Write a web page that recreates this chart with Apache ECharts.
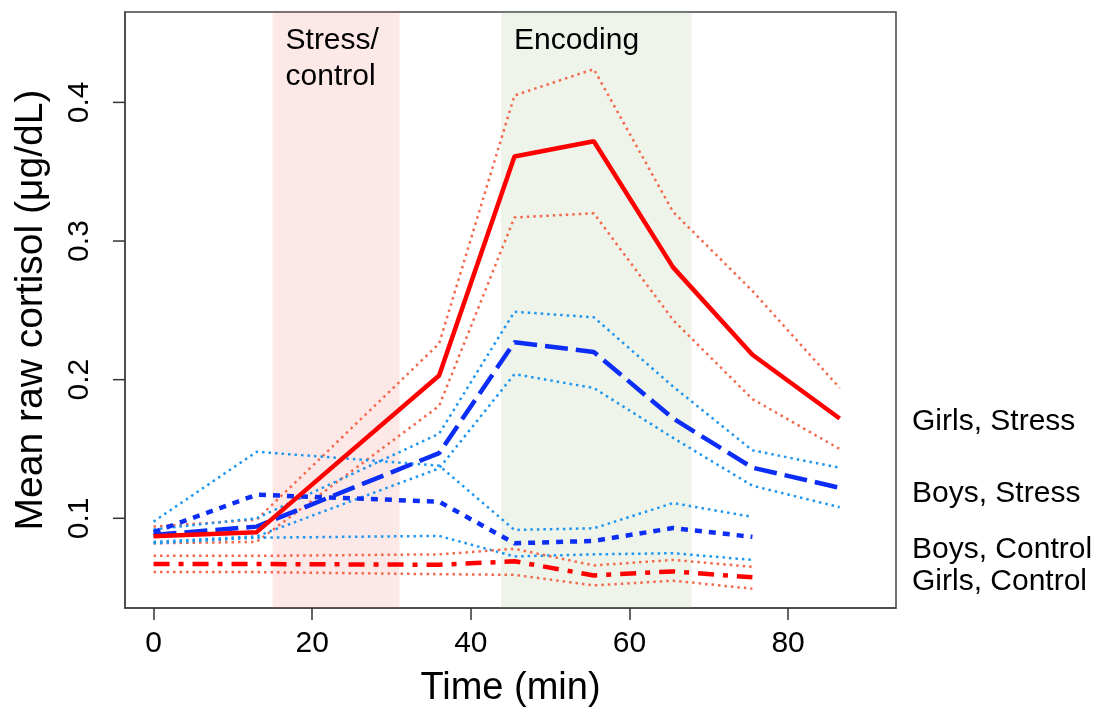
<!DOCTYPE html>
<html>
<head>
<meta charset="utf-8">
<script src="https://cdn.jsdelivr.net/npm/echarts@6/dist/echarts.min.js"></script>
<style>
  html, body { margin: 0; padding: 0; background: #fff; }
  #chart { width: 1102px; height: 713px; }
</style>
</head>
<body>
<div id="chart"></div>
<script>
// time points (min)
var times = [0, 13, 36, 45.5, 55.5, 65.5, 75.5, 86.5];
var timesShort = [0, 13, 36, 45.5, 55.5, 65.5, 75.5];

var xTicks = [0, 20, 40, 60, 80];
var yTicks = [0.1, 0.2, 0.3, 0.4];

// Girls, Stress
var girlsStress = [0.087, 0.090, 0.203, 0.361, 0.372, 0.281, 0.218, 0.172];
var girlsStressHi = [0.094, 0.099, 0.226, 0.405, 0.424, 0.321, 0.264, 0.194];
var girlsStressLo = [0.082, 0.083, 0.181, 0.317, 0.320, 0.243, 0.186, 0.150];

// Boys, Stress
var boysStress = [0.088, 0.094, 0.147, 0.227, 0.220, 0.172, 0.1365, 0.122];
var boysStressHi = [0.092, 0.100, 0.161, 0.249, 0.245, 0.195, 0.149, 0.1365];
var boysStressLo = [0.083, 0.087, 0.136, 0.204, 0.194, 0.158, 0.1235, 0.108];

// Boys, Control
var boysControl = [0.090, 0.117, 0.112, 0.082, 0.0837, 0.093, 0.0866];
var boysControlHi = [0.0976, 0.148, 0.138, 0.0916, 0.0928, 0.111, 0.101];
var boysControlLo = [0.082, 0.086, 0.0873, 0.0725, 0.074, 0.0748, 0.070];

// Girls, Control
var girlsControl = [0.067, 0.067, 0.0665, 0.069, 0.0588, 0.0617, 0.0574];
var girlsControlHi = [0.0729, 0.0729, 0.074, 0.078, 0.066, 0.070, 0.065];
var girlsControlLo = [0.0612, 0.0612, 0.0597, 0.0592, 0.0516, 0.055, 0.0492];

// shaded phases
var phases = [
  { name: 'Stress/\ncontrol', from: 15, to: 31 },
  { name: 'Encoding', from: 43.8, to: 67.8 }
];
var phaseColors = ['rgba(242,100,100,0.15)', 'rgba(142,182,115,0.15)'];

var groupLabels = ['Girls, Stress', 'Boys, Stress', 'Boys, Control', 'Girls, Control'];
var labelY = [422, 494, 550, 582];

var RED = '#ff0000', CORAL = '#f4694e', BLUE = '#0b2df5', SKY = '#1e96f0';
var FONT = 'Liberation Sans, Arial, Helvetica, sans-serif';
var X_MIN = -3.6, X_MAX = 93.6;
var Y_MIN = 0.0353, Y_MAX = 0.4652;

function pairs(xs, ys) {
  return ys.map(function (v, i) { return [xs[i], v]; });
}

function line(xs, ys, color, width, dash) {
  return {
    type: 'line',
    data: pairs(xs, ys),
    symbol: 'none',
    silent: true,
    z: 2,
    lineStyle: { color: color, width: width, type: dash }
  };
}

var dotted = [2.5, 4];

var series = [
  line(times, girlsStressHi, CORAL, 2.5, dotted),
  line(times, girlsStressLo, CORAL, 2.5, dotted),
  line(times, boysStressHi, SKY, 2.5, dotted),
  line(times, boysStressLo, SKY, 2.5, dotted),
  line(timesShort, boysControlHi, SKY, 2.5, dotted),
  line(timesShort, boysControlLo, SKY, 2.5, dotted),
  line(timesShort, girlsControlHi, CORAL, 2.5, dotted),
  line(timesShort, girlsControlLo, CORAL, 2.5, dotted),
  line(timesShort, girlsControl, RED, 4.5, [16, 9, 5, 9]),
  line(timesShort, boysControl, BLUE, 4.5, [7, 7]),
  line(times, boysStress, BLUE, 4.5, [23, 8]),
  line(times, girlsStress, RED, 4.5, 'solid'),
  {
    type: 'line',
    data: [],
    z: 5,
    silent: true,
    markArea: {
      silent: true,
      data: phases.map(function (p, i) {
        return [
          { xAxis: p.from, yAxis: Y_MIN, name: p.name,
            itemStyle: { color: phaseColors[i] } },
          { xAxis: p.to, yAxis: Y_MAX }
        ];
      }),
      label: {
        show: true,
        position: [13, 11],
        color: '#000',
        fontSize: 30,
        lineHeight: 36,
        fontFamily: FONT,
        align: 'left'
      }
    }
  },
  // y axis ticks, drawn outward from the left border
  {
    type: 'custom',
    silent: true,
    clip: false,
    z: 6,
    data: yTicks.map(function (v) { return [X_MIN, v]; }),
    renderItem: function (params, api) {
      var p = api.coord([api.value(0), api.value(1)]);
      return {
        type: 'line',
        shape: { x1: p[0] - 12, y1: p[1], x2: p[0], y2: p[1] },
        style: { stroke: '#333', lineWidth: 1.5 }
      };
    }
  }
];

var chart = echarts.init(document.getElementById('chart'), null, { renderer: 'canvas' });

chart.setOption({
  animation: false,
  backgroundColor: '#fff',
  textStyle: { fontFamily: FONT },
  grid: {
    left: 125, right: 206, top: 12, bottom: 103,
    show: true, borderColor: '#444', borderWidth: 1.5, backgroundColor: 'transparent'
  },
  xAxis: {
    type: 'value',
    min: X_MIN,
    max: X_MAX,
    name: 'Time (min)',
    nameLocation: 'middle',
    nameGap: 62,
    nameTextStyle: { fontSize: 38, color: '#000', fontFamily: FONT },
    axisLine: { show: true, onZero: false, lineStyle: { color: '#444', width: 1.5 } },
    splitLine: { show: false },
    axisTick: { show: true, length: 12, lineStyle: { color: '#333', width: 1.5 }, customValues: xTicks },
    axisLabel: { fontSize: 30, color: '#000', margin: 21, customValues: xTicks, fontFamily: FONT }
  },
  yAxis: {
    type: 'value',
    min: Y_MIN,
    max: Y_MAX,
    name: 'Mean raw cortisol (μg/dL)',
    nameLocation: 'middle',
    nameRotate: 90,
    nameGap: 74,
    nameTextStyle: { fontSize: 39, color: '#000', fontFamily: FONT },
    axisLine: { show: true, onZero: false, lineStyle: { color: '#444', width: 1.5 } },
    splitLine: { show: false },
    axisTick: { show: false },
    axisLabel: {
      fontSize: 30, color: '#000', margin: 30, rotate: 90, customValues: yTicks, fontFamily: FONT,
      formatter: function (v) { return String(Math.round(v * 10) / 10); }
    }
  },
  graphic: groupLabels.map(function (t, i) {
    return {
      type: 'text',
      left: 912,
      top: labelY[i] - 15,
      style: { text: t, fontSize: 30, fill: '#000', font: '30px ' + FONT, verticalAlign: 'top' }
    };
  }),
  series: series
});
</script>
</body>
</html>
